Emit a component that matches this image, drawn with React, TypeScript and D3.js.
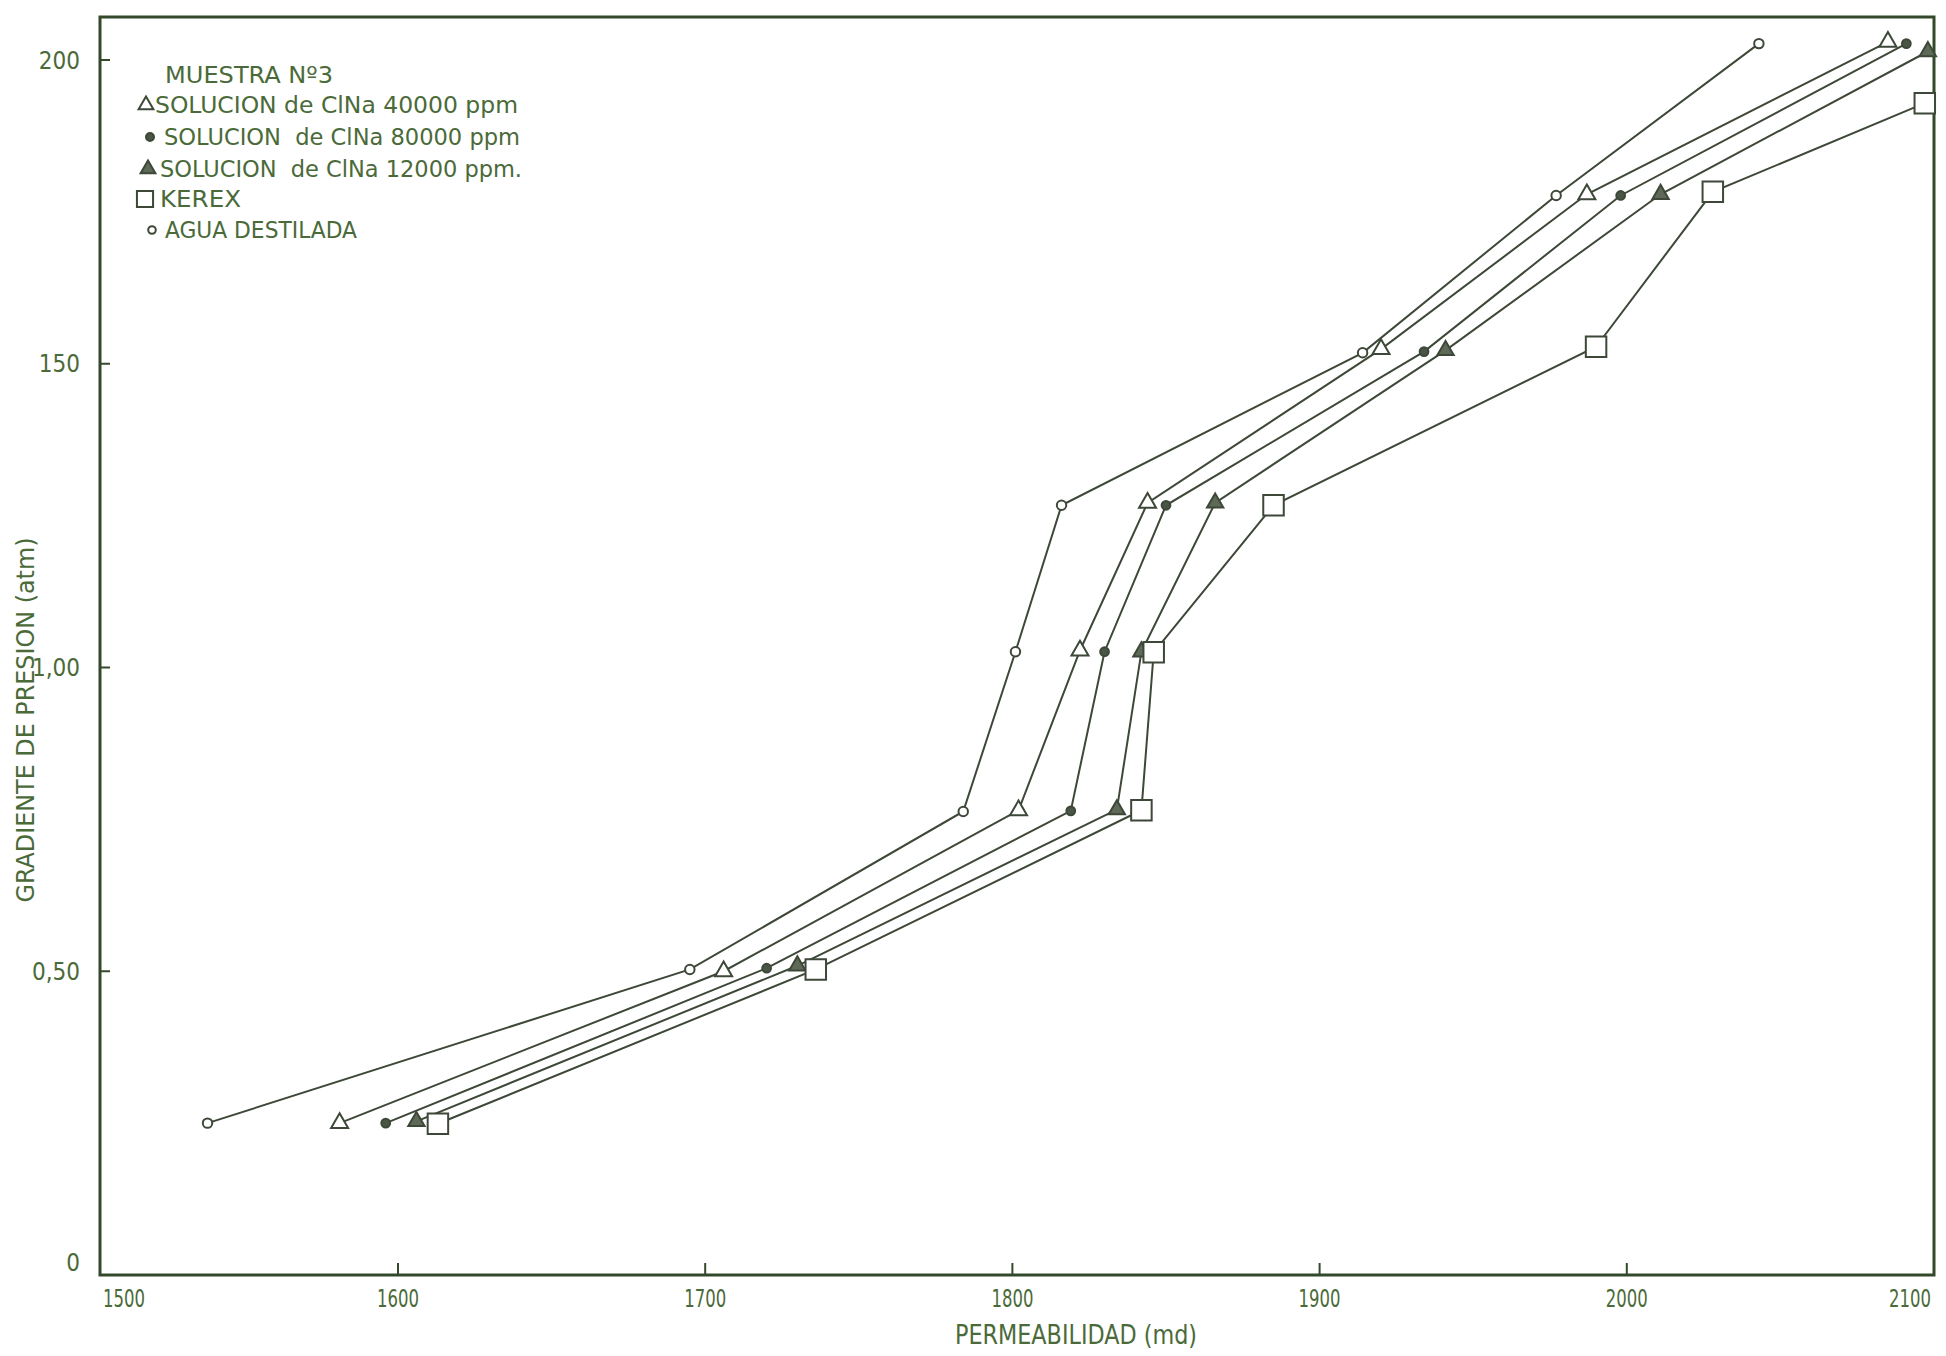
import React from "react";
import * as d3 from "d3";

const W = 1946;
const H = 1356;

// permeabilidad (md) / gradiente de presion (atm) per fluid
const sol40X = [1581, 1706, 1802, 1822, 1844, 1920, 1987, 2085];
const sol40Y = [0.25, 0.5, 0.765, 1.028, 1.271, 1.524, 1.779, 2.03];

const sol80X = [1596, 1720, 1819, 1830, 1850, 1934, 1998, 2091];
const sol80Y = [0.25, 0.505, 0.764, 1.026, 1.267, 1.52, 1.777, 2.027];

const sol12X = [1606, 1730, 1834, 1842, 1866, 1941, 2011, 2098];
const sol12Y = [0.253, 0.509, 0.766, 1.026, 1.271, 1.522, 1.779, 2.014];

const kerexX = [1613, 1736, 1842, 1846, 1885, 1990, 2028, 2097];
const kerexY = [0.249, 0.503, 0.765, 1.025, 1.267, 1.528, 1.783, 1.929];

const aguaX = [1538, 1695, 1784, 1801, 1816, 1914, 1977, 2043];
const aguaY = [0.25, 0.503, 0.763, 1.026, 1.267, 1.518, 1.777, 2.027];

const legendTitle = "MUESTRA Nº3";
const seriesNames = [
  "SOLUCION de ClNa 40000 ppm",
  "SOLUCION  de ClNa 80000 ppm",
  "SOLUCION  de ClNa 12000 ppm.",
  "KEREX",
  "AGUA DESTILADA",
];

const xTicks = [1500, 1600, 1700, 1800, 1900, 2000, 2100];
const yTicks = [0, 0.5, 1, 1.5, 2];
const yTickLabels = ["0", "0,50", "1,00", "150", "200"];

const xTitle = "PERMEABILIDAD (md)";
const yTitle = "GRADIENTE DE PRESION (atm)";

const FONT = "'DejaVu Sans Condensed', 'Liberation Sans Narrow', 'DejaVu Sans', sans-serif";
const TEXT = "#4b6a39";
const INK = "#3d4838";
const FRAME = "#34482b";

const series = [
  { xs: sol40X, ys: sol40Y, shape: d3.symbolTriangle, size: 125, fill: "#fff" },
  { xs: sol80X, ys: sol80Y, shape: d3.symbolCircle, size: 60, fill: "#4a5545" },
  { xs: sol12X, ys: sol12Y, shape: d3.symbolTriangle, size: 115, fill: "#5e6a57" },
  { xs: kerexX, ys: kerexY, shape: d3.symbolSquare, size: 420, fill: "#fff" },
  { xs: aguaX, ys: aguaY, shape: d3.symbolCircle, size: 70, fill: "#fff" },
];

// legend layout: marker x, text x, text width, baseline
const legendRows = [
  { mx: 146, tx: 155, tw: 363, by: 113, msize: 95 },
  { mx: 150, tx: 164, tw: 356, by: 145, msize: 50 },
  { mx: 148, tx: 160, tw: 362, by: 177, msize: 95 },
  { mx: 145, tx: 160, tw: 81, by: 207, msize: 260 },
  { mx: 152, tx: 165, tw: 192, by: 238, msize: 45 },
];

export default function App() {
  const x = d3.scaleLinear().domain([1503, 2100]).range([100, 1934]);
  const y = d3.scaleLinear().domain([0, 2]).range([1275, 60]);
  const frameTop = 17;

  const path = d3
    .line<[number, number]>()
    .x((d) => x(d[0]))
    .y((d) => y(d[1]));

  return (
    <svg width={W} height={H} style={{ position: "absolute", left: 0, top: 0, background: "#fff" }}>
      <rect width={W} height={H} fill="#fff" />

      {/* frame */}
      <rect
        x={x(1503)}
        y={frameTop}
        width={x(2100) - x(1503)}
        height={y(0) - frameTop}
        fill="none"
        stroke={FRAME}
        strokeWidth={3}
      />

      {/* x ticks */}
      {xTicks.map((t) => (
        <g key={t}>
          {t > 1503 && t < 2100 && (
            <line x1={x(t)} x2={x(t)} y1={y(0)} y2={y(0) - 12} stroke={FRAME} strokeWidth={2} />
          )}
          <text
            x={Math.min(Math.max(x(t), 124), 1910)}
            y={1307}
            textAnchor="middle"
            fontFamily={FONT}
            fontSize={25}
            fill={TEXT}
            textLength={42}
            lengthAdjust="spacingAndGlyphs"
          >
            {t}
          </text>
        </g>
      ))}

      {/* y ticks */}
      {yTicks.map((t, i) => (
        <g key={t}>
          {t > 0 && (
            <line x1={x(1503)} x2={x(1503) + 10} y1={y(t)} y2={y(t)} stroke={FRAME} strokeWidth={2} />
          )}
          <text
            x={80}
            y={Math.min(y(t), 1262)}
            dy="0.36em"
            textAnchor="end"
            fontFamily={FONT}
            fontSize={24}
            fill={TEXT}
          >
            {yTickLabels[i]}
          </text>
        </g>
      ))}

      {/* axis titles */}
      <text
        x={1076}
        y={1344}
        textAnchor="middle"
        fontFamily={FONT}
        fontSize={26}
        fill={TEXT}
        textLength={242}
        lengthAdjust="spacingAndGlyphs"
      >
        {xTitle}
      </text>
      <text
        transform="translate(34,720) rotate(-90)"
        textAnchor="middle"
        fontFamily={FONT}
        fontSize={25}
        fill={TEXT}
        textLength={365}
        lengthAdjust="spacingAndGlyphs"
      >
        {yTitle}
      </text>

      {/* series lines */}
      {series.map((s, i) => (
        <path
          key={i}
          d={path(s.xs.map((v, j) => [v, s.ys[j]] as [number, number])) || ""}
          fill="none"
          stroke={INK}
          strokeWidth={2}
        />
      ))}

      {/* markers */}
      {series.map((s, i) =>
        s.xs.map((v, j) => (
          <path
            key={`${i}-${j}`}
            transform={`translate(${x(v)},${y(s.ys[j])})`}
            d={d3.symbol().type(s.shape).size(s.size)() || ""}
            fill={s.fill}
            stroke={INK}
            strokeWidth={2}
          />
        ))
      )}

      {/* legend */}
      <text
        x={165}
        y={83}
        fontFamily={FONT}
        fontSize={23}
        fill={TEXT}
        textLength={168}
        lengthAdjust="spacingAndGlyphs"
        style={{ whiteSpace: "pre" }}
      >
        {legendTitle}
      </text>
      {legendRows.map((r, i) => (
        <g key={i}>
          <path
            transform={`translate(${r.mx},${r.by - 8})`}
            d={d3.symbol().type(series[i].shape).size(r.msize)() || ""}
            fill={series[i].fill}
            stroke={INK}
            strokeWidth={2}
          />
          <text
            x={r.tx}
            y={r.by}
            fontFamily={FONT}
            fontSize={23}
            fill={TEXT}
            textLength={r.tw}
            lengthAdjust="spacingAndGlyphs"
            style={{ whiteSpace: "pre" }}
          >
            {seriesNames[i]}
          </text>
        </g>
      ))}
    </svg>
  );
}
